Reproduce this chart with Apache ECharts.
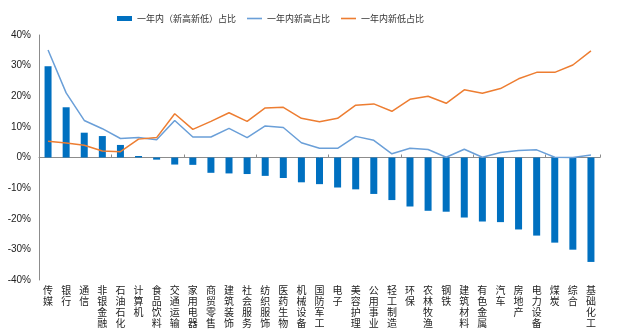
<!DOCTYPE html>
<html>
<head>
<meta charset="utf-8">
<script src="https://cdn.jsdelivr.net/npm/echarts@6/dist/echarts.min.js"></script>
<style>
  html, body { margin: 0; padding: 0; background: #fff; }
  #chart { width: 640px; height: 334px; }
</style>
</head>
<body>
<div id="chart"></div>
<script>
// Industries, ordered by net share of new highs minus new lows
const categories = ['传媒','银行','通信','非银金融','石油石化','计算机','食品饮料','交通运输','家用电器','商贸零售',
  '建筑装饰','社会服务','纺织服饰','医药生物','机械设备','国防军工','电子','美容护理','公用事业','轻工制造',
  '环保','农林牧渔','钢铁','建筑材料','有色金属','汽车','房地产','电力设备','煤炭','综合','基础化工'];

// Share of stocks at a one-year high (%)
const newHighShare = [35.1, 21.1, 12.1, 9.4, 6.2, 6.5, 5.8, 12.1, 6.7, 6.7,
  9.5, 6.5, 10.3, 9.8, 4.8, 3.0, 3.0, 6.9, 5.6, 1.2,
  3.0, 2.6, 0.1, 2.7, 0.1, 1.6, 2.3, 2.5, 0.1, 0.0, 0.8];

// Share of stocks at a one-year low (%)
const newLowShare = [5.3, 4.7, 4.0, 2.1, 1.9, 6.0, 6.5, 14.3, 9.2, 11.8,
  14.6, 11.8, 16.2, 16.4, 12.8, 11.7, 12.8, 17.1, 17.5, 15.1,
  19.0, 20.0, 17.7, 22.1, 21.0, 22.5, 25.7, 27.8, 27.8, 30.2, 34.8];

// Net share: new highs minus new lows (%)
const netShare = [29.8, 16.4, 8.1, 7.0, 4.1, 0.5, -0.7, -2.3, -2.4, -5.0,
  -5.2, -5.4, -6.0, -6.7, -8.1, -8.7, -9.8, -10.4, -11.9, -13.9,
  -16.0, -17.4, -17.7, -19.6, -20.9, -21.1, -23.5, -25.5, -27.8, -30.1, -34.1];

const yTicks = { min: -40, max: 40, step: 10 };

const chart = echarts.init(document.getElementById('chart'), null, { renderer: 'canvas' });

const cjk = '"Noto Sans CJK SC", "Noto Sans", sans-serif';

chart.setOption({
  animation: false,
  backgroundColor: '#ffffff',
  legend: {
    left: 112,
    top: 9,
    itemWidth: 15,
    itemHeight: 5,
    itemGap: 11,
    textStyle: { fontFamily: cjk, fontSize: 9, color: '#333' },
    data: [
      { name: '一年内（新高新低）占比', icon: 'rect' },
      { name: '一年内新高占比', icon: 'path://M0,0H15V1.6H0Z', itemStyle: { color: '#6A9FD8' } },
      { name: '一年内新低占比', icon: 'path://M0,0H15V1.6H0Z', itemStyle: { color: '#ED7D31' } }
    ]
  },
  grid: { left: 39, right: 40, top: 35, bottom: 54, containLabel: false },
  xAxis: [
    {
      type: 'category',
      data: categories,
      axisLine: { onZero: true, lineStyle: { color: '#8c8c8c', width: 1 } },
      axisTick: { show: true, inside: true, length: 3, lineStyle: { color: '#8c8c8c' } },
      axisLabel: { show: false },
      splitLine: { show: false }
    },
    {
      type: 'category',
      data: categories,
      position: 'bottom',
      axisLine: { show: false, onZero: false },
      axisTick: { show: false },
      axisLabel: {
        interval: 0,
        margin: 5,
        fontFamily: cjk,
        fontSize: 10,
        lineHeight: 11,
        color: '#222',
        verticalAlign: 'top',
        formatter: v => v.split('').join('\n')
      }
    }
  ],
  yAxis: {
    type: 'value',
    min: yTicks.min,
    max: yTicks.max,
    interval: yTicks.step,
    axisLine: { show: true, lineStyle: { color: '#8c8c8c' } },
    axisTick: { show: false },
    splitLine: { show: false },
    axisLabel: {
      fontFamily: '"Liberation Sans", Arial, sans-serif',
      fontSize: 10,
      color: '#222',
      margin: 8,
      formatter: '{value}%'
    }
  },
  series: [
    {
      name: '一年内（新高新低）占比',
      type: 'bar',
      xAxisIndex: 0,
      data: netShare,
      barWidth: 7,
      itemStyle: { color: '#0070C0' }
    },
    {
      name: '一年内新高占比',
      type: 'line',
      xAxisIndex: 0,
      data: newHighShare,
      symbol: 'none',
      lineStyle: { color: '#6A9FD8', width: 1.5 },
      itemStyle: { color: '#6A9FD8' }
    },
    {
      name: '一年内新低占比',
      type: 'line',
      xAxisIndex: 0,
      data: newLowShare,
      symbol: 'none',
      lineStyle: { color: '#ED7D31', width: 1.5 },
      itemStyle: { color: '#ED7D31' }
    }
  ]
});
</script>
</body>
</html>
